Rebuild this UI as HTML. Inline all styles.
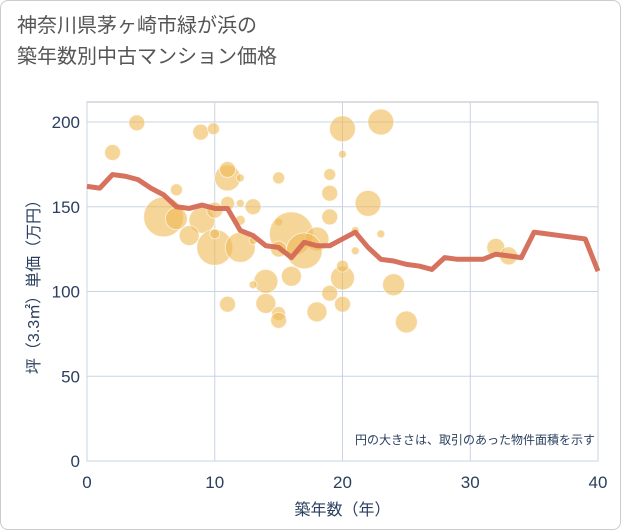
<!DOCTYPE html>
<html><head><meta charset="utf-8"><style>
body{margin:0;background:#fff;}
#wrap{position:relative;width:619px;height:528px;border:1px solid #ccc;border-radius:8px;background:#fff;overflow:hidden;font-family:"Liberation Sans","Noto Sans CJK JP",sans-serif;}
#title{position:absolute;left:16px;top:10px;font-size:20px;line-height:31px;color:#555;}
svg{position:absolute;left:0;top:0;}
</style></head><body>
<div id="wrap">
<div id="title">神奈川県茅ヶ崎市緑が浜の<br>築年数別中古マンション価格</div>
<svg id="chart" width="621" height="530"></svg>
</div>
<script>
const xTicks=[0,10,20,30,40];
const yTicks=[0,50,100,150,200];
const lineYears=[0,1,2,3,4,5,6,7,8,9,10,11,12,13,14,15,16,17,18,19,20,21,22,23,24,25,26,27,28,29,30,31,32,33,34,35,36,37,38,39,40];
const linePrices=[162,161,169,168,166,161,157,150,149,151,149,149,136,133,127,126,120,129,127,127,131,135,126,119,118,116,115,113,120,119,119,119,122,121,120,135,134,133,132,131,112];
const bubbleYears=[3.9,2,8.9,9.9,20,20,11,11,12,15,19,19,7,11,12,13,19,6,7,9,10,12,8,10,10,12,13,15,16,18,17,15,14,13,16,14,15,15,11,18,20,19,20,20,21,21,22,23,23,24,25,32,33];
const bubblePrices=[199.5,182,194,196,196,181,167,172,167,167,169,158,160,152,152,150,144,144,143,142,148,142,133,126,134,126,130,141,134,131,124,125,106,104,109,93,87,83,92.5,88,92.5,99,108,115,124,136,152,134,200,104,82,126,121];
const bubbleSizes=[8,8,8,6,13,4,13,8,4,6,6,8,6,7,4,8,8,20,11,13,8,5,10,18,5,15,4,4,22,12,18,8,12,4,10,10,7,8,8,10,8,8,12,6,4,4,13,4,13,11,11,9,9];
const svg=document.getElementById('chart');
const NS='http://www.w3.org/2000/svg';
const L=86,R=597,T=101,B=460;
const xS=v=>L+(v-0)/40*(R-L);
const yS=v=>B-v/200*(B-121);
function mk(tag,attrs,parent){const e=document.createElementNS(NS,tag);for(const k in attrs)e.setAttribute(k,attrs[k]);(parent||svg).appendChild(e);return e;}
const bg=mk('rect',{x:L,y:T,width:R-L,height:B-T,fill:'#fff',stroke:'#bbb'});


xTicks.forEach(t=>{const g=mk('line',{x1:xS(t),x2:xS(t),y1:T,y2:B,stroke:'#c8d4e3'});


const tx=mk('text',{x:xS(t),y:487,'text-anchor':'middle','font-size':17,fill:'#2a3f5f'});tx.textContent=t;

});
yTicks.forEach(t=>{const g=mk('line',{x1:L,x2:R,y1:yS(t),y2:yS(t),stroke:'#c8d4e3'});


const tx=mk('text',{x:79,y:yS(t)+6,'text-anchor':'end','font-size':17,fill:'#2a3f5f'});tx.textContent=t;

});
const bg2=mk('g',{});


bubbleYears.forEach((x,i)=>{const c=mk('circle',{cx:xS(x),cy:yS(bubblePrices[i]),r:bubbleSizes[i],fill:'#f0b955','fill-opacity':0.6,stroke:'#fff','stroke-opacity':0.6,'stroke-width':1},bg2);

});
const pts=lineYears.map((x,i)=>xS(x)+','+yS(linePrices[i])).join(' ');
const pl=mk('polyline',{points:pts,fill:'none',stroke:'#d46a55','stroke-width':5,'stroke-linejoin':'round','stroke-opacity':0.95});


const note=mk('text',{x:594,y:443,'text-anchor':'end','font-size':12,fill:'#2a3f5f'});note.textContent='円の大きさは、取引のあった物件面積を示す';


const xt=mk('text',{x:(L+R)/2,y:514,'text-anchor':'middle','font-size':16,fill:'#2a3f5f'});xt.textContent='築年数（年）';


const yt=mk('text',{x:0,y:0,'text-anchor':'middle','font-size':16,fill:'#2a3f5f',transform:'translate(38,282) rotate(-90)'});yt.textContent='坪（3.3㎡）単価（万円）';


</script>
</body></html>
